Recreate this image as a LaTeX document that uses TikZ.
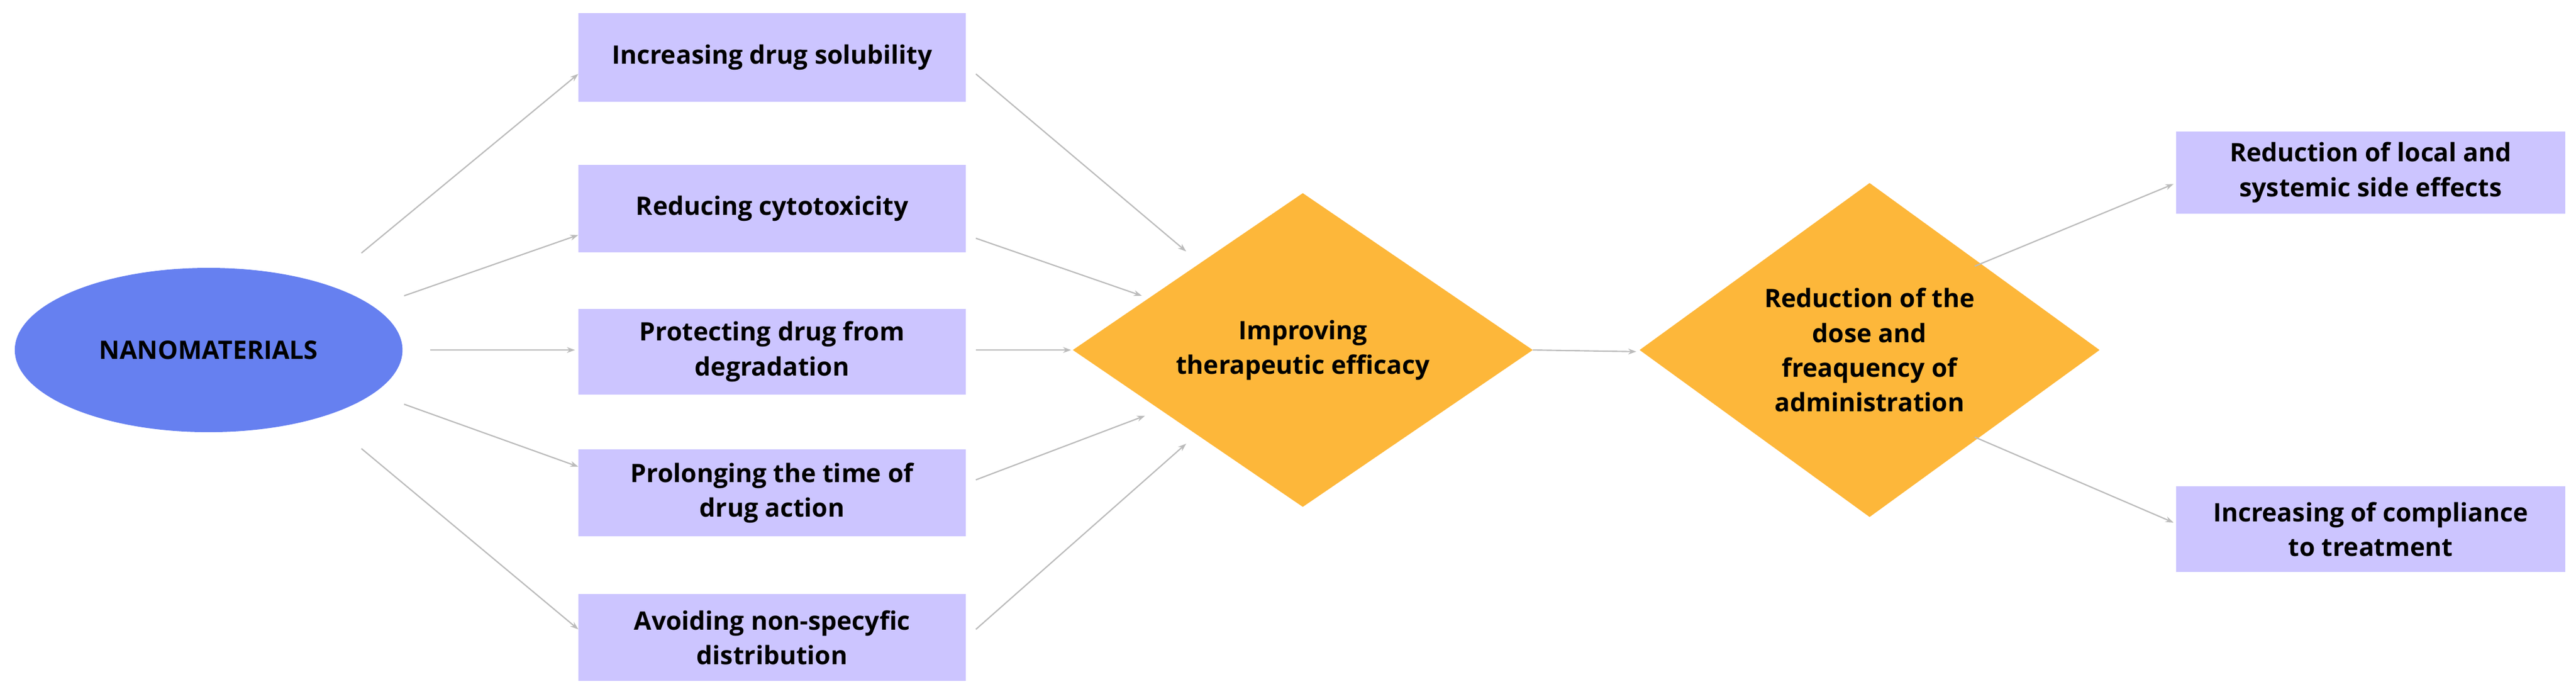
\documentclass[tikz,border=0pt]{standalone}
\usepackage{fontspec}
\setmainfont{Open Sans}
\usetikzlibrary{shapes.geometric,arrows.meta}
\definecolor{lav}{HTML}{CCC5FF}
\definecolor{ell}{HTML}{6680F0}
\definecolor{orng}{HTML}{FDB73A}
\definecolor{arr}{HTML}{BBBBBB}
\begin{document}
\begin{tikzpicture}[x=1mm,y=-1mm,
  txt/.style={font=\fontsize{44}{60}\selectfont\bfseries,align=center,text=black},
  box/.style={txt,fill=lav,minimum width=236mm,inner sep=0pt},
  dia/.style={txt,fill=orng,diamond,minimum width=280mm,minimum height=170mm,inner sep=0pt},
  con/.style={draw=arr,line width=2.2pt,-{Stealth[length=14pt,width=10pt]}}]
\useasboundingbox (0,0) rectangle (1568,422);
\node[txt,ellipse,fill=ell,minimum width=236mm,minimum height=100mm] (nano) at (127,213) {NANOMATERIALS};
\node[box,minimum height=54mm] (b1) at (470,35) {Increasing drug solubility};
\node[box,minimum height=53mm] (b2) at (470,127) {Reducing cytotoxicity};
\node[box,minimum height=52mm] (b3) at (470,214) {Protecting drug from\\degradation};
\node[box,minimum height=53mm] (b4) at (470,300) {Prolonging the time of\\drug action};
\node[box,minimum height=53mm] (b5) at (470,388) {Avoiding non-specyfic\\distribution};
\node[dia] (d1) at (793,213) {Improving\\therapeutic efficacy};
\node[dia] (d2) at (1138,213) {Reduction of the\\dose and\\freaquency of\\administration};
\node[box,minimum width=237mm,minimum height=50mm] (r1) at (1443,105) {Reduction of local and\\systemic side effects};
\node[box,minimum width=237mm,minimum height=52mm] (r2) at (1443,322) {Increasing of compliance\\to treatment};
\foreach \n/\a/\b/\c/\d in {a1/220/154/352/45,a2/246/180/352/143,a3/262/213/350/213,a4/246/246/352/284,a5/220/273/352/383,
  c1/594/45/722/153,c2/594/145/695/180,c3/594/213/652/213,c4/594/292/697/253,c5/594/383/722/270,
  e1/933/213/996/214,f1/1202/162/1323/112,f2/1202/266/1323/318}{
  \coordinate (\n s) at (\a,\b); \coordinate (\n e) at (\c,\d);
  \draw[con] (\n s) -- (\n e);}
\end{tikzpicture}
\end{document}
